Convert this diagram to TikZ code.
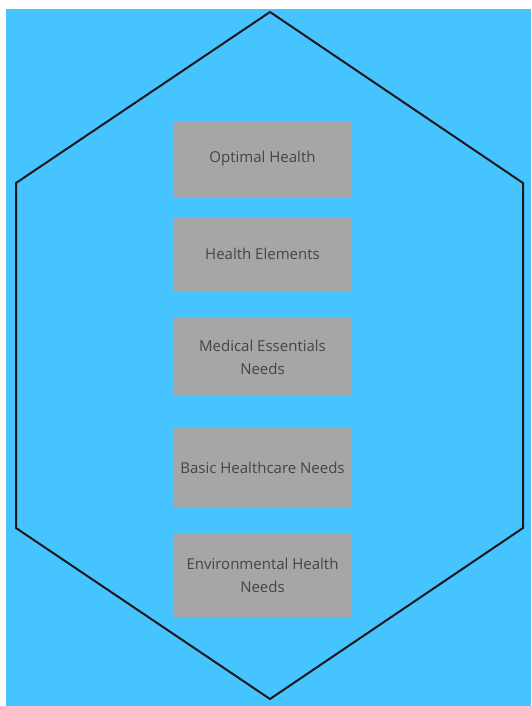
\documentclass[tikz,border=0pt]{standalone}
\usepackage{fontspec}
\setmainfont{Open Sans}
\usepackage{tikz}
\usepackage{xcolor}
\usetikzlibrary{positioning,calc}
\definecolor{skyback}{HTML}{46C4FF}
\definecolor{boxgray}{HTML}{A6A6A6}
\definecolor{textgray}{HTML}{454545}
\newcommand{\needbox}[4]{\node [needs, minimum height=#3] (#1) at (#2) {#4}}

\begin{document}
\begin{tikzpicture}[x=1pt,y=-1pt,
  needs/.style={fill=boxgray, text=textgray, minimum width=179pt, align=center,
    inner sep=0pt, font=\fontsize{15}{23}\selectfont}]

\useasboundingbox (0,0) rectangle (531,706);
\fill[white] (0,0) rectangle (531,706);
\fill[skyback] (6,9) rectangle (531,706);

% hexagon corners
\coordinate (TOP) at (270,12);
\coordinate (UR) at (523,183);
\coordinate (LR) at (523,528);
\coordinate (BOT) at (270,699);
\coordinate (LL) at (16,528);
\coordinate (UL) at (16,183);
\draw[line width=2pt, line join=miter, black!90] (TOP) -- (UR) -- (LR) -- (BOT) -- (LL) -- (UL) -- cycle;

\needbox{OPT}{262.5,159}{76pt}{Optimal Health};
\needbox{ELE}{262.5,254}{75pt}{Health Elements};
\needbox{MED}{262.5,357}{78pt}{Medical Essentials\\Needs};
\needbox{BAS}{262.5,467.5}{79pt}{Basic Healthcare Needs};
\needbox{ENV}{262.5,575}{84pt}{Environmental Health\\Needs};

\end{tikzpicture}
\end{document}
